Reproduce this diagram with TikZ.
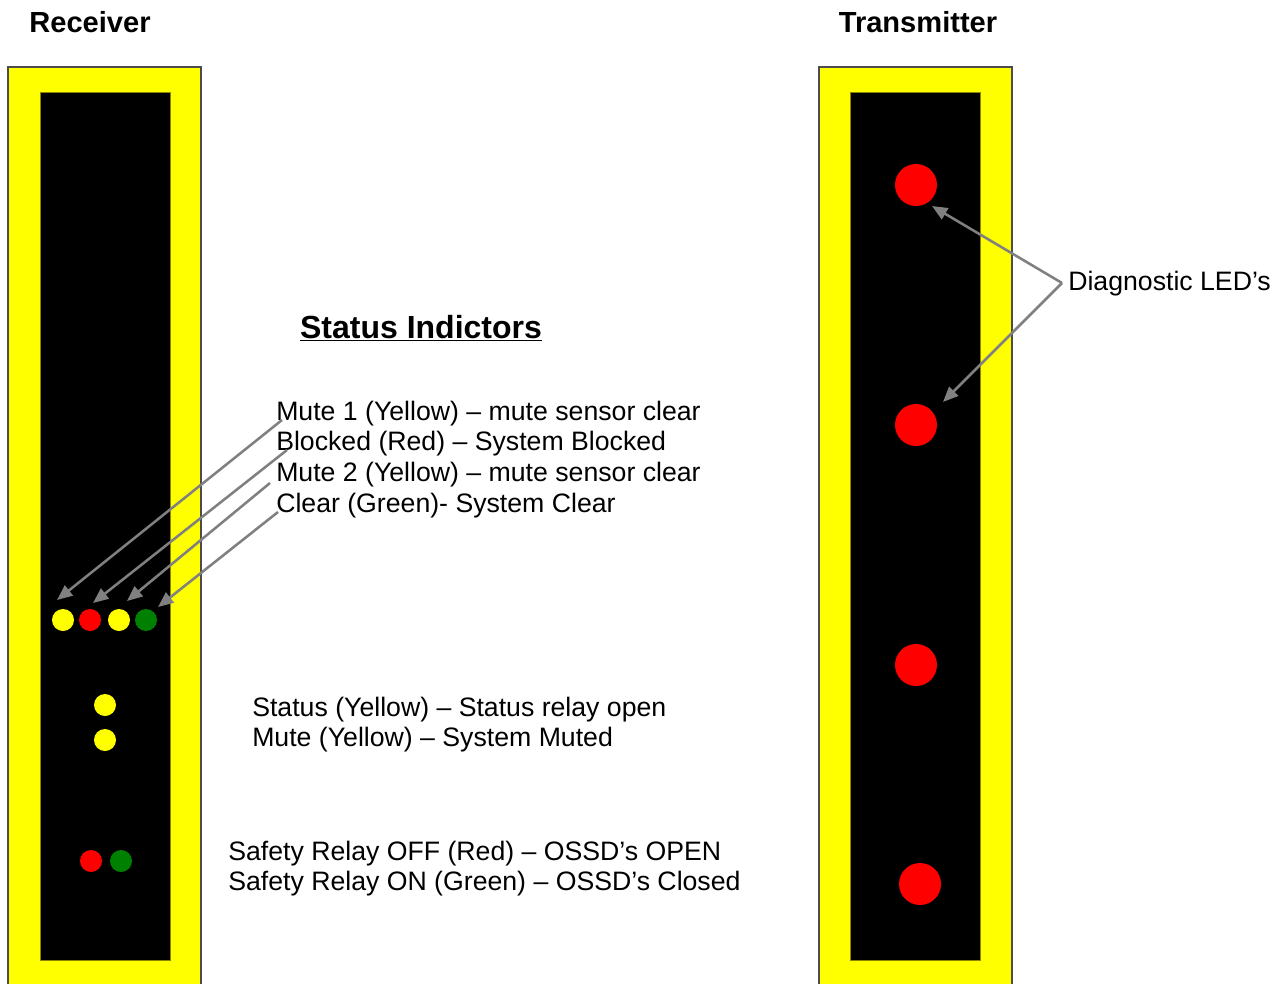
\documentclass[tikz,border=0pt]{standalone}
\usepackage{fontspec}
\setmainfont{Liberation Sans}
\usetikzlibrary{arrows.meta}

\definecolor{ledgreen}{RGB}{0,128,0}
\definecolor{ledred}{RGB}{255,0,0}
\definecolor{baryellow}{RGB}{255,255,0}
\definecolor{pointgray}{RGB}{128,128,128}
\tikzset{
  frame/.style={draw=black!70, line width=1.2pt, fill=baryellow},
  panel/.style={draw=olive, line width=0.6pt, fill=black},
  led/.style={circle, inner sep=0pt, minimum size=16.5pt, fill=#1},
  bigled/.style={circle, inner sep=0pt, minimum size=31.5pt, fill=ledred},
  pointer/.style={draw=pointgray, line width=1.9pt, -{Triangle[length=11.5pt, width=9.5pt]}},
  note/.style={anchor=base west, inner sep=0pt, font=\fontsize{20}{24}\selectfont},
  heading/.style={anchor=base, inner sep=0pt, font=\bfseries\fontsize{21.8}{26}\selectfont},
}

\begin{document}
\begin{tikzpicture}[x=0.75pt,y=-0.75pt]
    \useasboundingbox (0,0) rectangle (1284,984);
    \clip (0,0) rectangle (1284,984);

    % the two bars
    \draw[frame] (8,67) rectangle (201,1000);
    \draw[panel] (40,92) rectangle (170,960);
    \draw[frame] (819,67) rectangle (1012,1000);
    \draw[panel] (850,92) rectangle (980,960);

    \node[heading] (rx) at (90,33) {Receiver};
    \node[heading] (tx) at (918,33) {Transmitter};

    % receiver LEDs
    \node[led=baryellow] (l1) at (63,620) {};
    \node[led=ledred] (l2) at (90,620) {};
    \node[led=baryellow] (l3) at (119,620) {};
    \node[led=ledgreen] (l4) at (146,620) {};
    \node[led=baryellow] (s1) at (105,705) {};
    \node[led=baryellow] (s2) at (105,740) {};
    \node[led=ledred] (r1) at (91,861) {};
    \node[led=ledgreen] (r2) at (121,861) {};

    % transmitter LEDs
    \node[bigled] (d1) at (916,185) {};
    \node[bigled] (d2) at (916,425) {};
    \node[bigled] (d3) at (916,665) {};
    \node[bigled] (d4) at (920,884) {};

    \node[anchor=base, inner sep=0pt, font=\bfseries\fontsize{24}{28}\selectfont]
        (title) at (421,338) {\underline{Status Indictors}};

    \node[note] (m1) at (276,420) {Mute 1 (Yellow) -- mute sensor clear};
    \node[note] (m2) at (276,450) {Blocked (Red) -- System Blocked};
    \node[note] (m3) at (276,481) {Mute 2 (Yellow) -- mute sensor clear};
    \node[note] (m4) at (276,512) {Clear (Green)- System Clear};

    \node[note] (st1) at (252,716) {Status (Yellow) -- Status relay open};
    \node[note] (st2) at (252,746) {Mute (Yellow) -- System Muted};

    \node[note] (sr1) at (228,860) {Safety Relay OFF (Red) -- OSSD’s OPEN};
    \node[note] (sr2) at (228,890) {Safety Relay ON (Green) -- OSSD’s Closed};

    \node[note] (diag) at (1068,291) {Diagnostic LED’s};

    \coordinate (t1) at (57,600);
    \coordinate (t2) at (93,603);
    \coordinate (t3) at (127,601);
    \coordinate (t4) at (158,607);
    \coordinate (t5) at (932,206);
    \coordinate (t6) at (943,402);

    \draw[pointer] ([shift={(6,0)}]m1.base west) -- (t1);
    \draw[pointer] ([shift={(11,0)}]m2.base west) -- (t2);
    \draw[pointer] ([shift={(-6,2)}]m3.base west) -- (t3);
    \draw[pointer] ([shift={(2,0)}]m4.base west) -- (t4);
    \draw[pointer] ([shift={(-6,-8)}]diag.base west) -- (t5);
    \draw[pointer] ([shift={(-6,-8)}]diag.base west) -- (t6);
\end{tikzpicture}
\end{document}
